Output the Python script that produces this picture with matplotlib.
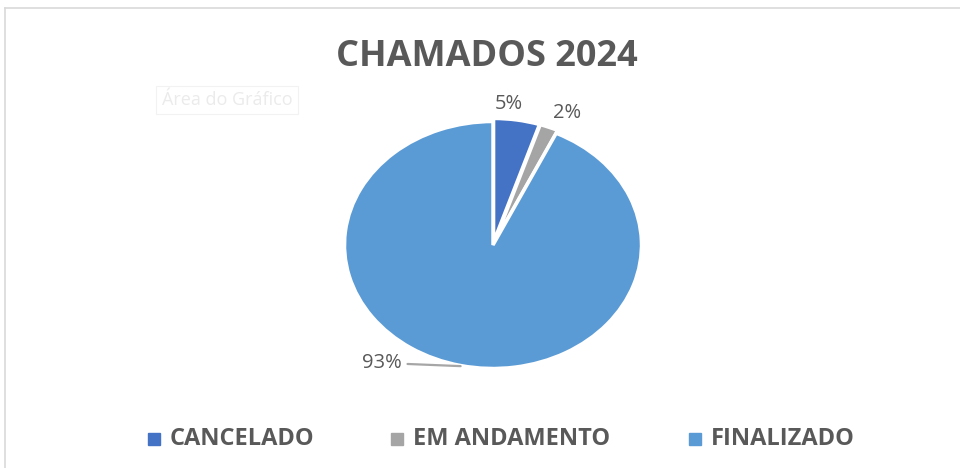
import numpy as np
import matplotlib.pyplot as plt
from matplotlib.lines import Line2D
from matplotlib.patches import Rectangle

# dados do gráfico
categorias = ['CANCELADO', 'EM ANDAMENTO', 'FINALIZADO']
valores = [5, 2, 93]
cores = ['#4472C4', '#A5A5A5', '#5B9BD5']
titulo = 'CHAMADOS 2024'
cor_texto = '#595959'

plt.rcParams['font.family'] = ['Open Sans', 'DejaVu Sans']

fig = plt.figure(figsize=(9.6, 4.68), dpi=100)
W, H = 960, 468

# moldura da área do gráfico (só topo e esquerda visíveis)
fig.add_artist(Line2D([5 / W, 1], [1 - 8 / H, 1 - 8 / H], color='#d9d9d9', lw=1.2))
fig.add_artist(Line2D([5 / W, 5 / W], [0, 1 - 8 / H], color='#d9d9d9', lw=1.2))

# eixo da pizza (levemente elíptica como na imagem)
cx, cy, rx, ry = 493, 245, 148.5, 123.5
ax = fig.add_axes([(cx - rx) / W, (H - cy - ry) / H, 2 * rx / W, 2 * ry / H])
ax.pie(valores, colors=cores, startangle=90, counterclock=False,
       radius=1, explode=[0.025, 0.025, 0.0],
       wedgeprops=dict(edgecolor='white', linewidth=2.5))
ax.set_xlim(-1, 1)
ax.set_ylim(-1, 1)
ax.set_aspect('auto')
ax.axis('off')

# rótulos de porcentagem (posição do texto em coordenadas do eixo)
pos_rotulos = [(0.108, 1.142), (0.50, 1.069), (-0.613, -0.955)]
total = sum(valores)
inicio = 90
for i, v in enumerate(valores):
    meio = np.deg2rad(inicio - v / total * 180)
    inicio -= v / total * 360
    txt = f'{v / total * 100:.0f}%'
    tx, ty = pos_rotulos[i]
    if i < 2:
        ax.text(tx, ty, txt, ha='center', va='center', fontsize=14.5,
                color=cor_texto, clip_on=False)
    else:
        ax.annotate(txt, xy=(np.cos(meio), np.sin(meio) * 1.005), xytext=(tx, ty),
                    ha='right', va='center', fontsize=14.5, color=cor_texto,
                    annotation_clip=False,
                    arrowprops=dict(arrowstyle='-', color='#a6a6a6', lw=1.6,
                                    shrinkA=2, shrinkB=0))

# título
fig.text(487 / W, 1 - 57 / H, titulo, ha='center', va='center', fontsize=26,
         fontweight='bold', color=cor_texto)

# dica fantasma "Área do Gráfico"
fig.text(227 / W, 1 - 100 / H, 'Área do Gráfico', ha='center', va='center', fontsize=13,
         color='#ebebeb',
         bbox=dict(boxstyle='square,pad=0.3', fc='white', ec='#f2f2f2', lw=0.8))

# legenda montada à mão: cada item centrado na sua posição
centros = [231, 501, 772]
ly = 439
lado = 12
r = fig.canvas.get_renderer()
for cat, cor, xc in zip(categorias, cores, centros):
    t = fig.text(0, 1 - ly / H, cat, ha='left', va='center', fontsize=17,
                 fontweight='bold', color=cor_texto)
    larg = t.get_window_extent(r).width
    total_item = lado + 10 + larg
    x0 = xc - total_item / 2
    fig.add_artist(Rectangle((x0 / W, 1 - (ly + lado / 2) / H), lado / W, lado / H,
                             color=cor, transform=fig.transFigure))
    t.set_x((x0 + lado + 10) / W)

fig.savefig('out.png', dpi=100, facecolor='white')
